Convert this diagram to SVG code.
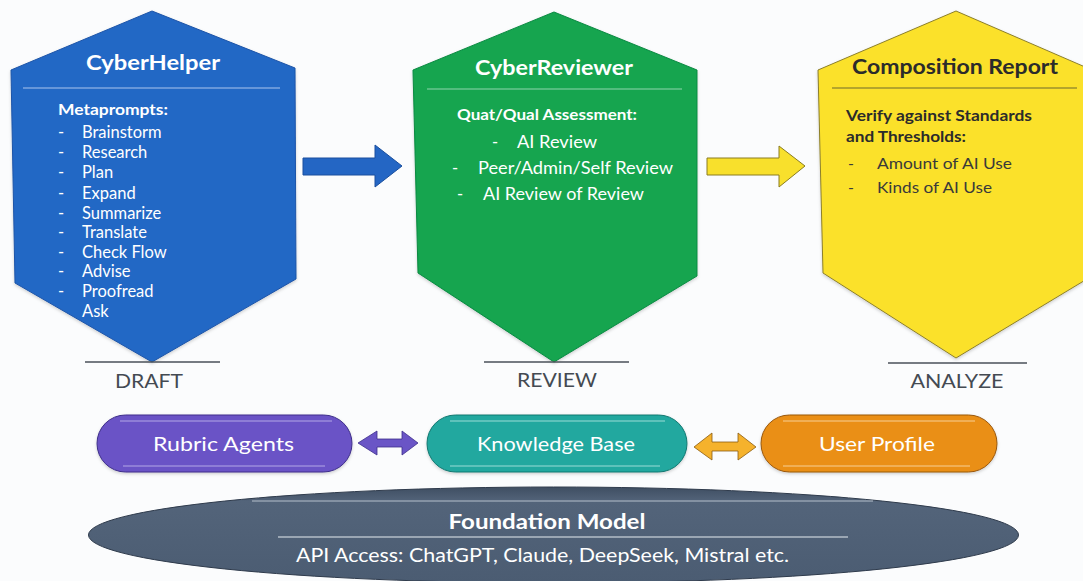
<svg xmlns="http://www.w3.org/2000/svg" width="1083" height="581" viewBox="0 0 1083 581">
<style>
text{font-family:Lato,"Open Sans","Liberation Sans",sans-serif;}
.w{fill:#ffffff;}
.title{font-size:21px;font-weight:700;}
.head{font-size:15px;font-weight:700;}
.item{font-size:16.5px;}
.stage{font-size:19px;fill:#444a52;}
.pill{font-size:20px;fill:#ffffff;}
.hl{stroke-width:1.2;fill:none;}
.base{stroke:#4a5058;stroke-width:1.3;}
</style>
<defs>
<filter id="sh" x="-10%" y="-10%" width="120%" height="120%">
<feDropShadow dx="0" dy="1.5" stdDeviation="1.5" flood-color="#000" flood-opacity="0.18"/>
</filter>
<linearGradient id="fg" x1="0" y1="0" x2="0" y2="1">
<stop offset="0" stop-color="#3f4e62"/>
<stop offset="0.15" stop-color="#53647a"/>
<stop offset="1" stop-color="#4b5c72"/>
</linearGradient>
</defs>
<rect width="1083" height="581" fill="#fbfcfd"/>

<g id="connectors">
<polygon points="303,158 375,158 375,145 402,166 375,187 375,175 303,175" fill="#2466c4" stroke="#1a4f9e" stroke-width="1"/>
<polygon points="707,158 779,158 779,146 805,166 779,187 779,175 707,175" fill="#f8e02c" stroke="#8a7d20" stroke-width="1"/>
<polygon points="358,443 377,431 377,439 402,439 402,431 418,443 402,455 402,447 377,447 377,455" fill="#6a55c6" stroke="#3e2f8c" stroke-width="0.8"/>
<polygon points="694,447 712,433 712,442 738,442 738,433 756,447 738,460 738,451 712,451 712,460" fill="#f5b22c" stroke="#8a5c10" stroke-width="0.8"/>
</g>

<g id="cyberhelper">
<polygon points="152,11 295,68 296,279 152,362 15,283 11,70" fill="#2467c5" stroke="#1c55a8" stroke-width="1" filter="url(#sh)"/>
<line x1="23" y1="88" x2="280" y2="88" class="hl" stroke="#a9c4ee"/>
<text x="153" y="70" class="title w" text-anchor="middle" textLength="134" lengthAdjust="spacingAndGlyphs">CyberHelper</text>
<text x="58" y="115" class="head w" textLength="110" lengthAdjust="spacingAndGlyphs">Metaprompts:</text>
<g class="item w">
<text x="58" y="138">-</text><text x="82" y="138">Brainstorm</text>
<text x="58" y="158">-</text><text x="82" y="158">Research</text>
<text x="58" y="178">-</text><text x="82" y="178">Plan</text>
<text x="58" y="199">-</text><text x="82" y="199">Expand</text>
<text x="58" y="219">-</text><text x="82" y="219">Summarize</text>
<text x="58" y="238">-</text><text x="82" y="238">Translate</text>
<text x="58" y="258">-</text><text x="82" y="258">Check Flow</text>
<text x="58" y="277">-</text><text x="82" y="277">Advise</text>
<text x="58" y="297">-</text><text x="82" y="297">Proofread</text>
<text x="82" y="317">Ask</text>
</g>
<line x1="85" y1="362" x2="220" y2="362" class="base"/>
<text x="149" y="388" class="stage" text-anchor="middle" textLength="68" lengthAdjust="spacingAndGlyphs">DRAFT</text>
</g>

<g id="cyberreviewer">
<polygon points="554,12 697,70 697,276 554,362 418,273 413,70" fill="#12a550" stroke="#0e8a42" stroke-width="1" filter="url(#sh)"/>
<line x1="427" y1="89" x2="682" y2="89" class="hl" stroke="#8fd6ae"/>
<text x="554" y="75" class="title w" text-anchor="middle" textLength="158" lengthAdjust="spacingAndGlyphs">CyberReviewer</text>
<text x="457" y="120" class="head w" font-size="14.5" textLength="180" lengthAdjust="spacingAndGlyphs">Quat/Qual Assessment:</text>
<g class="w" font-size="16.5">
<text x="492" y="148">-</text><text x="517" y="148" textLength="80" lengthAdjust="spacingAndGlyphs">AI Review</text>
<text x="452" y="174">-</text><text x="478" y="174" textLength="195" lengthAdjust="spacingAndGlyphs">Peer/Admin/Self Review</text>
<text x="457" y="200">-</text><text x="483" y="200" textLength="161" lengthAdjust="spacingAndGlyphs">AI Review of Review</text>
</g>
<line x1="484" y1="362" x2="629" y2="362" class="base"/>
<text x="557" y="387" class="stage" text-anchor="middle" textLength="80" lengthAdjust="spacingAndGlyphs">REVIEW</text>
</g>

<g id="composition-report">
<polygon points="956,11 1092,70 1092,276 956,358 823,273 818,70" fill="#fbe12b" stroke="#8c7f2a" stroke-width="1" filter="url(#sh)"/>
<line x1="832" y1="88" x2="1077" y2="88" class="hl" stroke="#6e6a2c"/>
<text x="955" y="74" class="title" fill="#2b2b2b" text-anchor="middle" textLength="206" lengthAdjust="spacingAndGlyphs">Composition Report</text>
<text x="846" y="121" class="head" fill="#2b2b2b" textLength="186" lengthAdjust="spacingAndGlyphs">Verify against Standards</text>
<text x="846" y="142" class="head" fill="#2b2b2b" textLength="120" lengthAdjust="spacingAndGlyphs">and Thresholds:</text>
<g fill="#3a3a3a" font-size="16">
<text x="848" y="169">-</text><text x="877" y="169" textLength="135" lengthAdjust="spacingAndGlyphs">Amount of AI Use</text>
<text x="848" y="193">-</text><text x="877" y="193" textLength="115" lengthAdjust="spacingAndGlyphs">Kinds of AI Use</text>
</g>
<line x1="888" y1="363" x2="1027" y2="363" class="base"/>
<text x="957" y="388" class="stage" text-anchor="middle" textLength="93" lengthAdjust="spacingAndGlyphs">ANALYZE</text>
</g>

<g id="rubric-agents">
<rect x="97" y="415" width="255" height="57" rx="28.5" fill="#6a53c6" stroke="#3e2f8a" stroke-width="1" filter="url(#sh)"/>
<line x1="120" y1="421" x2="332" y2="421" stroke="#b3a8e6" stroke-width="1"/>
<line x1="123" y1="466" x2="325" y2="466" stroke="#b3a8e6" stroke-width="1"/>
<text x="223.5" y="451" class="pill" text-anchor="middle" textLength="141" lengthAdjust="spacingAndGlyphs">Rubric Agents</text>
</g>

<g id="knowledge-base">
<rect x="427" y="415" width="260" height="57" rx="28.5" fill="#20a89f" stroke="#137871" stroke-width="1" filter="url(#sh)"/>
<line x1="450" y1="421" x2="665" y2="421" stroke="#9adcd6" stroke-width="1"/>
<line x1="450" y1="466" x2="660" y2="466" stroke="#9adcd6" stroke-width="1"/>
<text x="556" y="451" class="pill" text-anchor="middle" textLength="158" lengthAdjust="spacingAndGlyphs">Knowledge Base</text>
</g>

<g id="user-profile">
<rect x="761" y="415" width="236" height="57" rx="28.5" fill="#ea8f17" stroke="#99580c" stroke-width="1" filter="url(#sh)"/>
<line x1="783" y1="421" x2="975" y2="421" stroke="#f7cf94" stroke-width="1"/>
<line x1="783" y1="466" x2="970" y2="466" stroke="#f7cf94" stroke-width="1"/>
<text x="877" y="451" class="pill" text-anchor="middle" textLength="116" lengthAdjust="spacingAndGlyphs">User Profile</text>
</g>

<g id="foundation-model">
<ellipse cx="553.5" cy="535" rx="465" ry="48" fill="url(#fg)" stroke="#2f3b4c" stroke-width="1"/>
<line x1="252" y1="501" x2="873" y2="501" stroke="#b6c0cc" stroke-width="1"/>
<line x1="278" y1="537" x2="848" y2="537" stroke="#e6ebf0" stroke-width="1.2"/>
<text x="547" y="529" fill="#ffffff" font-size="20" font-weight="700" text-anchor="middle" textLength="197" lengthAdjust="spacingAndGlyphs">Foundation Model</text>
<text x="542.5" y="562" fill="#ffffff" font-size="18.5" text-anchor="middle" textLength="493" lengthAdjust="spacingAndGlyphs">API Access:  ChatGPT, Claude, DeepSeek, Mistral etc.</text>
</g>
</svg>
